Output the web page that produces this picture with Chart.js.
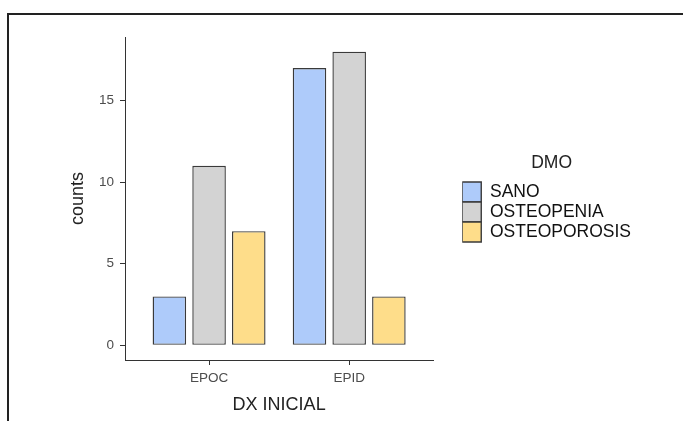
<!DOCTYPE html>
<html>
<head>
<meta charset="utf-8">
<script src="https://cdn.jsdelivr.net/npm/chart.js@4/dist/chart.umd.min.js"></script>
<style>
  html, body { margin: 0; padding: 0; background: #fff; overflow: hidden; }
  #wrap { position: relative; width: 683px; height: 421px; }
  #frame { position: absolute; left: 7px; top: 13px; right: -10px; bottom: -10px;
           border-top: 2.5px solid #222; border-left: 2.5px solid #222; pointer-events: none; }
</style>
</head>
<body>
<div id="wrap">
  <canvas id="myChart" width="683" height="421"></canvas>
  <div id="frame"></div>
</div>
<script>
// data
const categories = ['EPOC', 'EPID'];
const sano = [3, 17];
const osteopenia = [11, 18];
const osteoporosis = [7, 3];
const yTicks = [0, 5, 10, 15];

const font = 'Liberation Sans, Arial, sans-serif';

function points(values) {
  return values.map((v, i) => ({ x: i + 1, y: v }));
}

function makeSet(label, values, color) {
  return {
    label: label,
    data: points(values),
    backgroundColor: color,
    borderColor: '#3a3a3a',
    borderWidth: 1.4,
    borderSkipped: false,
    categoryPercentage: 0.85,
    barPercentage: 0.845
  };
}

const data = {
  datasets: [
    makeSet('SANO', sano, '#aecbfa'),
    makeSet('OSTEOPENIA', osteopenia, '#d3d3d3'),
    makeSet('OSTEOPOROSIS', osteoporosis, '#fedd8a')
  ]
};

const config = {
  type: 'bar',
  data,
  options: {
    responsive: false,
    animation: false,
    layout: { padding: { top: 37, left: 10, right: 42, bottom: 0 } },
    scales: {
      x: {
        type: 'linear',
        min: 0.4,
        max: 2.6,
        offset: false,
        afterBuildTicks: s => { s.ticks = categories.map((c, i) => ({ value: i + 1 })); },
        afterFit: s => { s.height = 61; },
        grid: { offset: false, drawOnChartArea: false, drawTicks: true, tickLength: 5, color: '#333' },
        border: { display: true, color: '#333', width: 1 },
        ticks: {
          callback: v => categories[v - 1],
          font: { family: font, size: 13.5 },
          color: '#4d4d4d',
          padding: 5,
          maxRotation: 0
        },
        title: {
          display: true,
          text: 'DX INICIAL',
          font: { family: font, size: 18 },
          color: '#222',
          padding: { top: 0, bottom: 5 }
        }
      },
      y: {
        min: -0.9,
        max: 18.9,
        afterBuildTicks: s => { s.ticks = yTicks.map(v => ({ value: v })); },
        afterFit: s => { s.width = 115; },
        grid: { drawOnChartArea: false, drawTicks: true, tickLength: 5, color: '#333' },
        border: { display: true, color: '#333', width: 1 },
        ticks: {
          font: { family: font, size: 13.5 },
          color: '#4d4d4d',
          padding: 6
        },
        title: {
          display: true,
          text: 'counts',
          font: { family: font, size: 18 },
          color: '#222',
          padding: { top: 57, bottom: 0 }
        }
      },
      // empty spacer between plot and legend
      gap: {
        type: 'linear',
        position: 'right',
        display: true,
        afterFit: s => { s.width = 29; },
        grid: { display: false },
        border: { display: false },
        ticks: { display: false }
      }
    },
    plugins: {
      tooltip: { enabled: false },
      legend: {
        position: 'right',
        align: 'start',
        maxWidth: 240,
        title: {
          display: true,
          text: 'DMO',
          font: { family: font, size: 17.5 },
          color: '#222',
          padding: { top: 117.5, bottom: 6.5 }
        },
        labels: {
          boxWidth: 19,
          boxHeight: 20,
          padding: 0,
          font: { family: font, size: 17.5 },
          color: '#111'
        }
      }
    }
  }
};

const myChart = new Chart(document.getElementById('myChart'), config);
</script>
</body>
</html>
